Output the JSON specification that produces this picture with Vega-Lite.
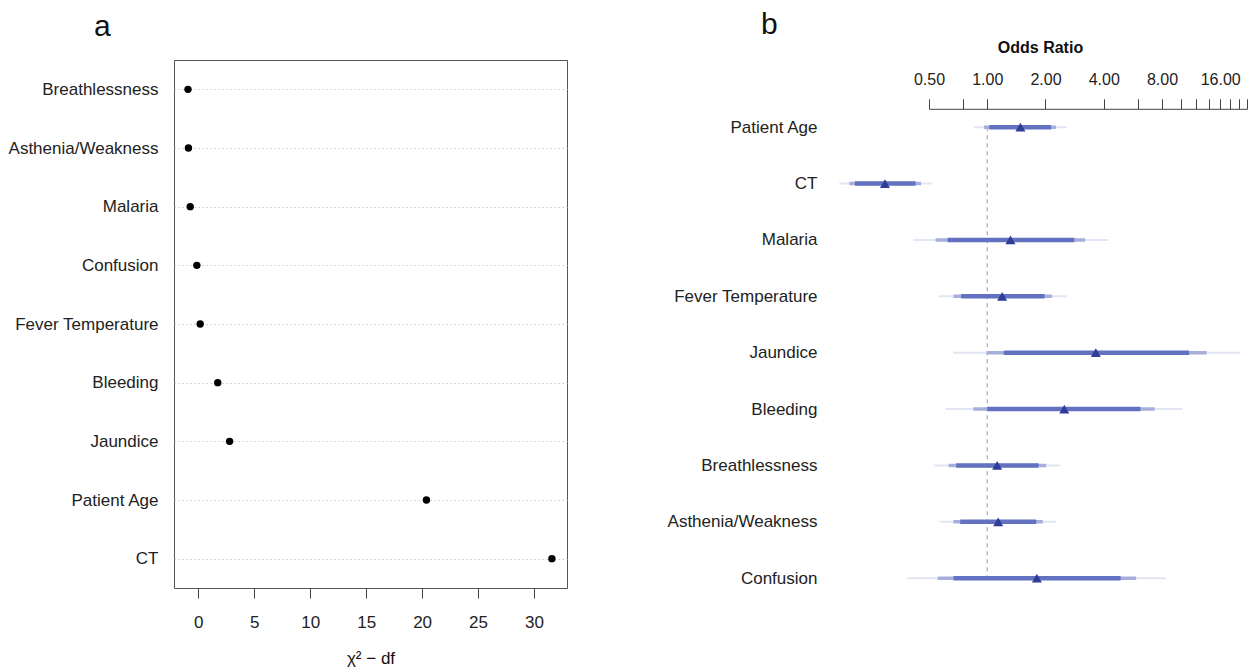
{
  "$schema": "https://vega.github.io/schema/vega-lite/v6.json",
  "background": "white",
  "padding": {"left": 7, "top": 9, "right": 0, "bottom": 0},
  "config": {
    "font": "Liberation Sans",
    "view": {"stroke": null},
    "concat": {"spacing": 99},
    "axis": {"labelColor": "#222", "titleColor": "#111"}
  },
  "datasets": {
    "d": [
      {"variable": "Breathlessness", "chisq": -0.92, "or": 1.125, "inner_lo": 0.691, "inner_hi": 1.842, "mid_lo": 0.631, "mid_hi": 2.017, "outer_lo": 0.533, "outer_hi": 2.39},
      {"variable": "Asthenia/Weakness", "chisq": -0.88, "or": 1.139, "inner_lo": 0.725, "inner_hi": 1.792, "mid_lo": 0.669, "mid_hi": 1.937, "outer_lo": 0.567, "outer_hi": 2.27},
      {"variable": "Malaria", "chisq": -0.72, "or": 1.318, "inner_lo": 0.624, "inner_hi": 2.82, "mid_lo": 0.541, "mid_hi": 3.21, "outer_lo": 0.414, "outer_hi": 4.22},
      {"variable": "Confusion", "chisq": -0.13, "or": 1.805, "inner_lo": 0.669, "inner_hi": 4.89, "mid_lo": 0.554, "mid_hi": 5.88, "outer_lo": 0.386, "outer_hi": 8.42},
      {"variable": "Fever Temperature", "chisq": 0.17, "or": 1.194, "inner_lo": 0.733, "inner_hi": 1.977, "mid_lo": 0.669, "mid_hi": 2.165, "outer_lo": 0.561, "outer_hi": 2.58},
      {"variable": "Bleeding", "chisq": 1.74, "or": 2.5, "inner_lo": 1.0, "inner_hi": 6.19, "mid_lo": 0.848, "mid_hi": 7.33, "outer_lo": 0.609, "outer_hi": 10.2},
      {"variable": "Jaundice", "chisq": 2.8, "or": 3.64, "inner_lo": 1.218, "inner_hi": 11.04, "mid_lo": 0.993, "mid_hi": 13.6, "outer_lo": 0.665, "outer_hi": 20.3},
      {"variable": "Patient Age", "chisq": 20.39, "or": 1.484, "inner_lo": 1.024, "inner_hi": 2.14, "mid_lo": 0.962, "mid_hi": 2.27, "outer_lo": 0.855, "outer_hi": 2.58},
      {"variable": "CT", "chisq": 31.6, "or": 0.296, "inner_lo": 0.207, "inner_hi": 0.426, "mid_lo": 0.194, "mid_hi": 0.455, "outer_lo": 0.172, "outer_hi": 0.519}
    ]
  },
  "hconcat": [
    {
      "width": 393,
      "height": 528,
      "data": {"name": "d"},
      "title": {"text": "a", "fontSize": 30, "fontWeight": "normal", "anchor": "start", "frame": "bounds", "dx": 86, "offset": 18, "color": "#111"},
      "view": {"stroke": "#555", "strokeWidth": 1},
      "mark": {"type": "point", "filled": true, "shape": "circle", "color": "black", "opacity": 1, "size": 55},
      "encoding": {
        "y": {
          "field": "variable", "type": "nominal", "sort": "x",
          "scale": {"type": "point", "padding": 0.5},
          "axis": {"title": null, "ticks": false, "domain": false, "labelFontSize": 17, "labelPadding": 16, "grid": true, "gridDash": [1.5, 2.5], "gridColor": "#c8c8c8", "gridWidth": 1}
        },
        "x": {
          "field": "chisq", "type": "quantitative",
          "scale": {"domain": [-2.17, 32.95], "nice": false, "zero": false},
          "axis": {"values": [0, 5, 10, 15, 20, 25, 30], "title": "χ² − df", "titleFontSize": 17, "titleFontWeight": "normal", "titlePadding": 20, "labelFontSize": 17, "labelPadding": 16, "tickSize": 10, "tickColor": "#444", "domain": false, "grid": false, "labelFlush": false}
        }
      }
    },
    {
      "width": 318,
      "height": 529,
      "data": {"name": "d"},
      "title": {"text": "b", "fontSize": 30, "fontWeight": "normal", "anchor": "start", "frame": "bounds", "dx": 94, "offset": 0, "color": "#111"},
      "encoding": {
        "y": {
          "field": "variable", "type": "nominal",
          "scale": {"type": "point", "padding": 0.192, "domain": ["", "Patient Age", "CT", "Malaria", "Fever Temperature", "Jaundice", "Bleeding", "Breathlessness", "Asthenia/Weakness", "Confusion"]},
          "axis": {"title": null, "ticks": false, "domain": false, "grid": false, "labelFontSize": 17, "labelPadding": 112}
        }
      },
      "layer": [
        {
          "data": {"values": [{"ref": 1}]},
          "mark": {"type": "rule", "strokeDash": [4, 4], "color": "#999", "strokeWidth": 1, "clip": false},
          "encoding": {
            "x": {"field": "ref", "type": "quantitative", "scale": {"type": "log", "base": 2, "domain": [0.5, 22], "nice": false},
              "axis": {"orient": "top", "offset": -48.8, "title": "Odds Ratio", "titleFontSize": 16, "titleFontWeight": "bold", "titleX": 111, "titlePadding": 16, "values": [0.5, 0.75, 1, 2, 4, 6, 8, 10, 12, 14, 16, 18, 20, 22], "format": ".2f", "labelExpr": "indexof([0.5, 1, 2, 4, 8, 16], datum.value) >= 0 ? datum.label : ''", "labelFontSize": 16, "labelPadding": 11, "labelOverlap": false, "labelFlush": false, "tickSize": 10, "tickColor": "#444", "domainColor": "#444", "grid": false}},
            "y": {"datum": "Patient Age"},
            "y2": {"datum": "Confusion"}
          }
        },
        {
          "mark": {"type": "rule", "color": "#e2e5f4", "strokeWidth": 2, "clip": false},
          "encoding": {
            "x": {"field": "outer_lo", "type": "quantitative", "scale": {"type": "log", "base": 2, "domain": [0.5, 22], "nice": false},
              "axis": {"orient": "top", "offset": -48.8, "title": "Odds Ratio", "titleFontSize": 16, "titleFontWeight": "bold", "titleX": 111, "titlePadding": 16, "values": [0.5, 0.75, 1, 2, 4, 6, 8, 10, 12, 14, 16, 18, 20, 22], "format": ".2f", "labelExpr": "indexof([0.5, 1, 2, 4, 8, 16], datum.value) >= 0 ? datum.label : ''", "labelFontSize": 16, "labelPadding": 11, "labelOverlap": false, "labelFlush": false, "tickSize": 10, "tickColor": "#444", "domainColor": "#444", "grid": false}},
            "x2": {"field": "outer_hi"}
          }
        },
        {
          "mark": {"type": "rule", "color": "#a7aedb", "strokeWidth": 3.5, "clip": false},
          "encoding": {
            "x": {"field": "mid_lo", "type": "quantitative", "scale": {"type": "log", "base": 2, "domain": [0.5, 22], "nice": false},
              "axis": {"orient": "top", "offset": -48.8, "title": "Odds Ratio", "titleFontSize": 16, "titleFontWeight": "bold", "titleX": 111, "titlePadding": 16, "values": [0.5, 0.75, 1, 2, 4, 6, 8, 10, 12, 14, 16, 18, 20, 22], "format": ".2f", "labelExpr": "indexof([0.5, 1, 2, 4, 8, 16], datum.value) >= 0 ? datum.label : ''", "labelFontSize": 16, "labelPadding": 11, "labelOverlap": false, "labelFlush": false, "tickSize": 10, "tickColor": "#444", "domainColor": "#444", "grid": false}},
            "x2": {"field": "mid_hi"}
          }
        },
        {
          "mark": {"type": "rule", "color": "#6372c0", "strokeWidth": 4.5, "clip": false},
          "encoding": {
            "x": {"field": "inner_lo", "type": "quantitative", "scale": {"type": "log", "base": 2, "domain": [0.5, 22], "nice": false},
              "axis": {"orient": "top", "offset": -48.8, "title": "Odds Ratio", "titleFontSize": 16, "titleFontWeight": "bold", "titleX": 111, "titlePadding": 16, "values": [0.5, 0.75, 1, 2, 4, 6, 8, 10, 12, 14, 16, 18, 20, 22], "format": ".2f", "labelExpr": "indexof([0.5, 1, 2, 4, 8, 16], datum.value) >= 0 ? datum.label : ''", "labelFontSize": 16, "labelPadding": 11, "labelOverlap": false, "labelFlush": false, "tickSize": 10, "tickColor": "#444", "domainColor": "#444", "grid": false}},
            "x2": {"field": "inner_hi"}
          }
        },
        {
          "mark": {"type": "point", "shape": "triangle-up", "filled": true, "color": "#2f3d98", "opacity": 1, "size": 100, "clip": false},
          "encoding": {
            "x": {"field": "or", "type": "quantitative", "scale": {"type": "log", "base": 2, "domain": [0.5, 22], "nice": false},
              "axis": {"orient": "top", "offset": -48.8, "title": "Odds Ratio", "titleFontSize": 16, "titleFontWeight": "bold", "titleX": 111, "titlePadding": 16, "values": [0.5, 0.75, 1, 2, 4, 6, 8, 10, 12, 14, 16, 18, 20, 22], "format": ".2f", "labelExpr": "indexof([0.5, 1, 2, 4, 8, 16], datum.value) >= 0 ? datum.label : ''", "labelFontSize": 16, "labelPadding": 11, "labelOverlap": false, "labelFlush": false, "tickSize": 10, "tickColor": "#444", "domainColor": "#444", "grid": false}}
          }
        }
      ]
    }
  ],
  "resolve": {"scale": {"x": "independent", "y": "independent"}}
}
